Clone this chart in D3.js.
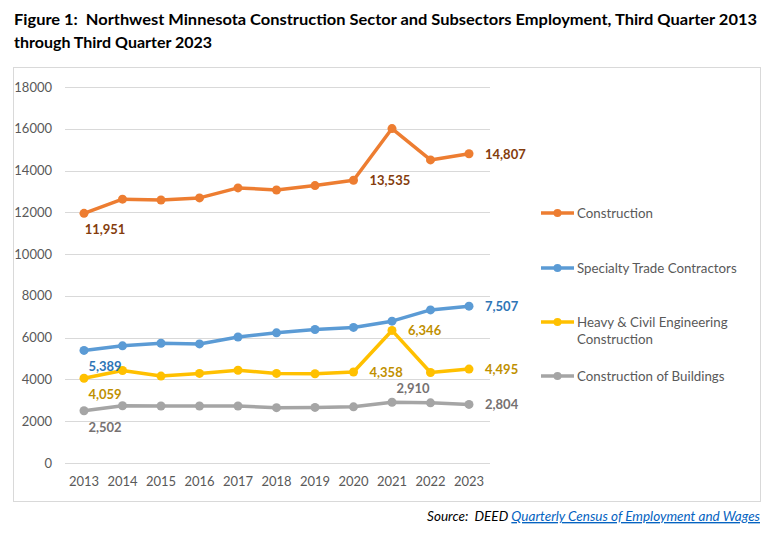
<!DOCTYPE html>
<html>
<head>
<meta charset="utf-8">
<script src="https://d3js.org/d3.v7.min.js"></script>
<style>
  body { margin: 0; background: #fff; }
  svg { font-family: Lato, "Open Sans", sans-serif; }
  text { white-space: pre; }
</style>
</head>
<body>
<svg id="vis"></svg>
<script>
    const years = ['2013', '2014', '2015', '2016', '2017', '2018', '2019', '2020', '2021', '2022', '2023']
    const construction = [11951, 12630, 12590, 12690, 13170, 13070, 13280, 13535, 16010, 14510, 14807]
    const specialty = [5389, 5610, 5730, 5700, 6030, 6230, 6390, 6490, 6790, 7330, 7507]
    const heavy = [4059, 4430, 4160, 4290, 4440, 4290, 4270, 4358, 6346, 4330, 4495]
    const buildings = [2502, 2740, 2730, 2730, 2730, 2650, 2660, 2690, 2910, 2880, 2804]
    const yTicks = [0, 2000, 4000, 6000, 8000, 10000, 12000, 14000, 16000, 18000]

    // which points get a label, and where
    const series = [
        { name: 'Construction', values: construction, color: '#ED7D31', labelColor: '#843C0C',
          labels: [[0, 'below'], [7, 'right'], [10, 'right']] },
        { name: 'Specialty Trade Contractors', values: specialty, color: '#5B9BD5', labelColor: '#2E75B6',
          labels: [[0, 'below'], [10, 'right']] },
        { name: ['Heavy & Civil Engineering', 'Construction'], values: heavy, color: '#FFC000', labelColor: '#BF9000',
          labels: [[0, 'below'], [7, 'right'], [8, 'right'], [10, 'right']] },
        { name: 'Construction of Buildings', values: buildings, color: '#A5A5A5', labelColor: '#767171',
          labels: [[0, 'below'], [8, 'above'], [10, 'right']] }
    ]

    let svg = d3.select('#vis')
        .attr('width', 770)
        .attr('height', 534)

    // title
    svg.append('text')
        .attr('x', 14).attr('y', 25)
        .attr('textLength', 743).attr('lengthAdjust', 'spacingAndGlyphs')
        .style('font-size', '16px').style('font-weight', 'bold').attr('fill', '#000')
        .text('Figure 1:  Northwest Minnesota Construction Sector and Subsectors Employment, Third Quarter 2013')
    svg.append('text')
        .attr('x', 14).attr('y', 48)
        .style('font-size', '16px').style('font-weight', 'bold').attr('fill', '#000')
        .text('through Third Quarter 2023')

    // chart frame
    svg.append('rect')
        .attr('x', 13.5).attr('y', 67.5)
        .attr('width', 747).attr('height', 434)
        .attr('fill', 'none').attr('stroke', '#D9D9D9')

    const x = d3.scalePoint()
        .domain(years)
        .range([84, 469])

    const y = d3.scaleLinear()
        .domain([0, 18000])
        .range([463, 87])

    // gridlines
    svg.append('g')
        .selectAll('line')
        .data(yTicks)
        .enter().append('line')
        .attr('x1', 65).attr('x2', 490)
        .attr('y1', d => Math.round(y(d)) + 0.5)
        .attr('y2', d => Math.round(y(d)) + 0.5)
        .attr('stroke', '#D9D9D9')
        .attr('stroke-width', 1)

    // y axis labels
    svg.append('g')
        .selectAll('text')
        .data(yTicks)
        .enter().append('text')
        .attr('x', 52)
        .attr('y', d => y(d) + 4.5)
        .attr('text-anchor', 'end')
        .style('font-size', '13px')
        .attr('fill', '#595959')
        .text(d => d)

    // x axis labels
    svg.append('g')
        .selectAll('text')
        .data(years)
        .enter().append('text')
        .attr('x', d => x(d))
        .attr('y', 486)
        .attr('text-anchor', 'middle')
        .style('font-size', '13px')
        .attr('fill', '#595959')
        .text(d => d)

    const line = d3.line()
        .x((d, i) => x(years[i]))
        .y(d => y(d))

    // lines + markers
    series.forEach(function (s) {
        svg.append('path')
            .datum(s.values)
            .attr('d', line)
            .attr('fill', 'none')
            .attr('stroke', s.color)
            .attr('stroke-width', 3.5)
            .attr('stroke-linejoin', 'round')

        svg.append('g')
            .selectAll('circle')
            .data(s.values)
            .enter().append('circle')
            .attr('cx', (d, i) => x(years[i]))
            .attr('cy', d => y(d))
            .attr('r', 4.5)
            .attr('fill', s.color)
    })

    // data labels
    series.forEach(function (s) {
        svg.append('g')
            .selectAll('text')
            .data(s.labels)
            .enter().append('text')
            .attr('x', function (d) {
                let px = x(years[d[0]])
                return d[1] == 'right' ? px + 16 : px + 21
            })
            .attr('y', function (d) {
                let py = y(s.values[d[0]])
                if (d[1] == 'below') return py + 21
                if (d[1] == 'above') return py - 9
                return py + 5
            })
            .attr('text-anchor', d => d[1] == 'right' ? 'start' : 'middle')
            .style('font-size', '13px')
            .style('font-weight', 'bold')
            .attr('fill', s.labelColor)
            .text(d => d3.format(',')(s.values[d[0]]))
    })

    // legend
    const legendY = [213, 268, 322, 376]
    series.forEach(function (s, i) {
        let g = svg.append('g').attr('transform', 'translate(541,' + legendY[i] + ')')
        g.append('line')
            .attr('x1', 0).attr('x2', 33)
            .attr('stroke', s.color).attr('stroke-width', 3.5)
        g.append('circle').attr('cx', 16.5).attr('r', 4).attr('fill', s.color)
        let names = Array.isArray(s.name) ? s.name : [s.name]
        names.forEach(function (n, j) {
            g.append('text')
                .attr('x', 36).attr('y', 4.5 + j * 17)
                .style('font-size', '13.3px')
                .attr('fill', '#595959')
                .text(n)
        })
    })

    // source
    let src = svg.append('text')
        .attr('x', 760).attr('y', 521)
        .attr('text-anchor', 'end')
        .style('font-size', '13.5px')
        .style('font-style', 'italic')
    src.append('tspan').attr('fill', '#000').text('Source:  DEED ')
    src.append('tspan').attr('fill', '#0563C1')
        .style('text-decoration', 'underline')
        .text('Quarterly Census of Employment and Wages')
</script>
</body>
</html>
